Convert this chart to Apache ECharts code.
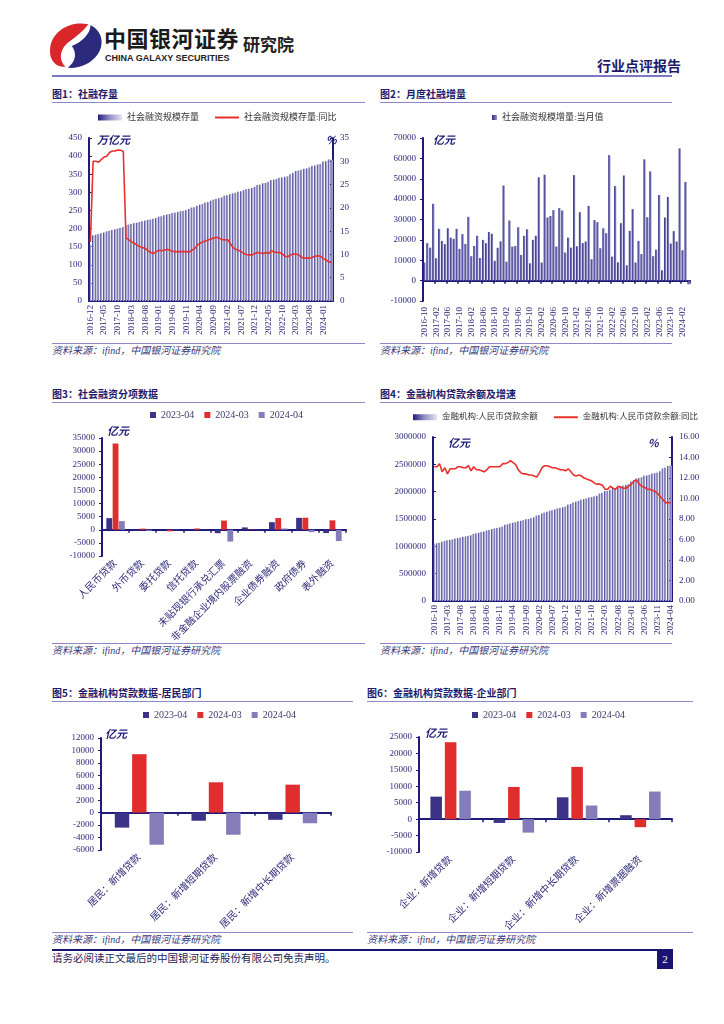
<!DOCTYPE html>
<html><head><meta charset="utf-8">
<script src="https://cdn.jsdelivr.net/npm/echarts@6/dist/echarts.min.js"></script>
<style>
body{margin:0;width:724px;height:1024px;background:#fff;position:relative;overflow:hidden;font-family:'Noto Sans CJK SC',sans-serif;}
.t{position:absolute;white-space:nowrap;}
.title{position:absolute;font-size:10px;line-height:12px;font-weight:bold;color:#1d1a6a;white-space:nowrap;font-family:'Noto Sans CJK SC';}
.hl{position:absolute;height:0;border-top:1px solid #8c88c9;}
.src{position:absolute;font-size:10px;line-height:12px;font-style:italic;color:#3a3a7a;font-family:'Liberation Serif','Noto Sans CJK SC';white-space:nowrap;}
.chart{position:absolute;}
</style></head><body>
<svg class="t" style="left:47px;top:21px" width="58" height="48" viewBox="0 0 56 46">
  <path d="M40 3 C22 -1 4 10 3 27 C2 38 9 45 18 44 C11 38 12 27 21 20 C28 15 35 10 40 3 Z" fill="#d8262b"/>
  <path d="M24 24 C34 20 42 12 42 4 C53 9 56 22 49 32 C42 42 30 46 20 45 C28 39 29 31 24 24 Z" fill="#2b2a7c"/>
</svg>
<div class="t" style="left:104px;top:25px;font-size:22px;line-height:24px;font-weight:bold;color:#1a1a1a;letter-spacing:0.5px">中国银河证券</div>
<div class="t" style="left:105px;top:54px;font-size:9px;line-height:9px;font-weight:bold;color:#222;font-family:'Liberation Sans',Arial">CHINA GALAXY SECURITIES</div>
<div class="t" style="left:243px;top:35px;font-size:17px;line-height:18px;font-weight:bold;color:#222">研究院</div>
<div class="t" style="left:597px;top:57px;font-size:14px;line-height:16px;font-weight:bold;color:#1d1a6a">行业点评报告</div>
<div class="t" style="left:52px;top:75px;width:620px;height:2px;background:#7b77c4"></div>

<div class="title" style="left:52px;top:88px">图1：社融存量</div>
<div class="hl" style="left:52px;top:102px;width:313px"></div>
<div class="title" style="left:380px;top:88px">图2：月度社融增量</div>
<div class="hl" style="left:380px;top:102px;width:292px"></div>
<div class="hl" style="left:52px;top:343px;width:313px"></div>
<div class="hl" style="left:380px;top:343px;width:292px"></div>
<div class="src" style="left:52px;top:345px">资料来源：ifind，中国银河证券研究院</div>
<div class="src" style="left:380px;top:345px">资料来源：ifind，中国银河证券研究院</div>

<div class="title" style="left:52px;top:388px">图3：社会融资分项数据</div>
<div class="hl" style="left:52px;top:402px;width:313px"></div>
<div class="title" style="left:380px;top:388px">图4：金融机构贷款余额及增速</div>
<div class="hl" style="left:380px;top:402px;width:292px"></div>
<div class="hl" style="left:52px;top:643px;width:313px"></div>
<div class="hl" style="left:380px;top:643px;width:292px"></div>
<div class="src" style="left:52px;top:645px">资料来源：ifind，中国银河证券研究院</div>
<div class="src" style="left:380px;top:645px">资料来源：ifind，中国银河证券研究院</div>

<div class="title" style="left:52px;top:687px">图5：金融机构贷款数据-居民部门</div>
<div class="hl" style="left:52px;top:701px;width:301px"></div>
<div class="title" style="left:367px;top:687px">图6：金融机构贷款数据-企业部门</div>
<div class="hl" style="left:367px;top:701px;width:326px"></div>
<div class="hl" style="left:52px;top:932px;width:301px"></div>
<div class="hl" style="left:367px;top:932px;width:326px"></div>
<div class="src" style="left:52px;top:934px">资料来源：ifind，中国银河证券研究院</div>
<div class="src" style="left:367px;top:934px">资料来源：ifind，中国银河证券研究院</div>

<div class="t" style="left:52px;top:949px;width:620px;height:2px;background:#1a1370"></div>
<div class="t" style="left:52px;top:953px;font-size:10.5px;line-height:12px;color:#1f1c5a;font-family:'Liberation Serif','Noto Sans CJK SC'">请务必阅读正文最后的中国银河证券股份有限公司免责声明。</div>
<div class="t" style="left:657px;top:949px;width:16px;height:20px;background:#1a1370;color:#fff;font-size:11px;text-align:center;line-height:20px;font-family:'Liberation Serif'">2</div>

<div id="c1" class="chart" style="left:40px;top:104px;width:330px;height:238px"></div>
<div id="c2" class="chart" style="left:370px;top:104px;width:330px;height:238px"></div>
<div id="c3" class="chart" style="left:40px;top:404px;width:330px;height:238px"></div>
<div id="c4" class="chart" style="left:370px;top:404px;width:330px;height:238px"></div>
<div id="c5" class="chart" style="left:40px;top:704px;width:320px;height:228px"></div>
<div id="c6" class="chart" style="left:360px;top:704px;width:340px;height:228px"></div>

<script>
// ---------- DATA ----------
function months(y, m, n) { var a = []; for (var i = 0; i < n; i++) { var mm = m + i; var yy = y + Math.floor((mm - 1) / 12); var m2 = ((mm - 1) % 12) + 1; a.push(yy + '-' + (m2 < 10 ? '0' + m2 : m2)); } return a; }

var c1Months = months(2016, 12, 89);
var c1Stock = [156,181,183,185,187,189,192,194,196,198,200,202,204,
  209,211,213,215,216,218,220,222,224,225,227,229,
  233,234,237,239,240,243,244,246,248,249,251,254,
  258,259,263,266,268,272,273,277,280,282,284,286,
  291,292,295,297,299,302,303,306,309,310,312,315,
  320,321,325,326,329,334,335,337,340,341,343,344,
  350,354,359,360,362,365,366,369,373,374,377,378,
  385,386,391,390];
var c1Yoy = [12.7,30.0,30.0,29.8,30.4,30.9,31.1,31.9,32.2,32.2,32.4,32.4,32.1,
  13.5,13.2,12.7,12.4,12.0,11.7,11.5,11.3,10.8,10.4,10.2,10.6,
  10.9,10.8,10.9,11.1,10.9,10.7,10.6,10.6,10.6,10.6,10.6,10.5,
  10.9,11.2,12.0,12.4,12.7,12.9,13.1,13.3,13.5,13.7,13.5,13.2,
  13.1,13.2,12.4,11.5,11.1,10.9,10.6,10.2,10.0,9.9,9.9,10.2,
  10.4,10.3,10.2,10.4,10.2,10.8,10.5,10.4,10.4,10.1,9.6,9.5,
  9.9,10.1,10.1,9.9,9.4,9.2,9.2,9.2,9.4,9.6,9.7,9.6,
  9.1,8.8,8.4,8.3];

var c2Months = months(2016, 10, 91);
var c2Flow = [8850,18400,16200,37700,11000,25400,19500,17900,25700,21100,
  20500,25400,15600,22800,18000,31300,12000,17000,22000,11100,
  20000,18400,23900,23000,9700,16100,19300,46700,9300,29500,
  16700,17000,26200,12600,22000,25200,8500,20000,22000,50700,
  8850,52000,31000,31700,34600,16700,35600,34400,13800,21100,
  16200,51800,16900,33600,18400,19200,36700,10500,29700,28700,
  15900,25700,23300,61600,11800,46400,9000,28200,51600,7500,
  24400,35100,8900,19500,13000,59500,31100,53600,12000,15200,
  42000,5100,31000,41100,18200,24300,19200,64900,14900,48400,-1800];

var c3Cats = ['人民币贷款','外币贷款','委托贷款','信托贷款','未贴现银行承兑汇票','非金融企业境内股票融资','企业债券融资','政府债券','表外融资'];
var c3A = [4431,-306,-30,80,-1300,900,2900,4548,-1250];
var c3B = [32900,450,-600,500,3500,150,4500,4600,3600];
var c3C = [3300,-400,-100,50,-4500,50,500,-900,-4300];

var c4Months = months(2016, 10, 91);
var c4Loan = [1047000,1055000,1066000,1086000,1098000,1110000,1117000,1128000,1143000,1151000,
  1162000,1174000,1181000,1192000,1201000,1230000,1238000,1249000,1261000,1272000,
  1290000,1301000,1314000,1328000,1334000,1346000,1362000,1395000,1404000,1420000,
  1430000,1442000,1459000,1467000,1479000,1496000,1502000,1516000,1530000,1563000,
  1572000,1601000,1618000,1633000,1651000,1661000,1675000,1694000,1701000,1715000,
  1727000,1763000,1776000,1803000,1817000,1832000,1854000,1863000,1876000,1893000,
  1901000,1914000,1926000,1966000,1978000,2010000,2016000,2035000,2063000,2067000,
  2080000,2104000,2110000,2122000,2136000,2185000,2203000,2242000,2249000,2263000,
  2293000,2296000,2309000,2332000,2339000,2349000,2375000,2424000,2439000,2470000,2477000];
var c4Yoy = [13.1,13.1,13.4,12.6,13.0,12.4,12.9,12.9,12.9,13.1,
  13.1,13.0,13.0,13.2,12.7,13.1,12.8,12.8,12.7,12.6,
  12.8,13.1,13.1,13.1,13.1,13.1,13.4,13.4,13.5,13.7,
  13.5,13.3,12.8,12.5,12.4,12.4,12.3,12.3,12.2,12.1,
  12.5,13.0,13.2,13.2,13.1,13.0,13.0,12.9,12.8,12.8,
  12.7,12.9,12.6,12.3,12.2,12.3,12.2,12.0,11.9,11.8,
  11.7,11.5,11.4,11.4,11.3,10.9,10.9,11.2,11.0,10.9,
  11.2,11.1,11.0,11.0,11.2,11.4,11.7,11.8,11.4,11.2,
  11.1,10.9,10.9,10.8,10.7,10.5,10.2,9.9,9.6,9.6,9.6];

var c5Cats = ['居民：新增贷款','居民：新增短期贷款','居民：新增中长期贷款'];
var c5A = [-2400,-1300,-1150];
var c5B = [9400,4880,4500];
var c5C = [-5150,-3550,-1700];

var c6Cats = ['企业：新增贷款','企业：新增短期贷款','企业：新增中长期贷款','企业：新增票据融资'];
var c6A = [6850,-1150,6650,1200];
var c6B = [23400,9800,15900,-2450];
var c6C = [8650,-4100,4150,8400];

var seriesNames3 = ['2023-04','2024-03','2024-04'];

// ---------- STYLE ----------
var FF = "'Liberation Serif','Noto Sans CJK SC',serif";
var NAVY = '#1f1a78';
var LBL = '#2e2a78';
var RED = '#e8302c';
var C_A = '#3a3388', C_B = '#e02d2d', C_C = '#857dba';
var LINE_ICON = 'path://M0,0H24V2H0Z';
function plain(v) { return String(v); }
function grad() {
  return new echarts.graphic.LinearGradient(0, 0, 1, 0, [
    {offset: 0, color: '#231e7c'}, {offset: 0.45, color: '#8d8ac2'}, {offset: 1, color: '#e4e4f2'}]);
}
function valAxis(min, max, itv, pos, fmt, tickIn) {
  return {type: 'value', min: min, max: max, interval: itv, position: pos || 'left',
    axisLine: {show: true, onZero: false, lineStyle: {color: NAVY, width: 2}},
    axisTick: {show: true, inside: !!tickIn, length: 3, lineStyle: {color: NAVY, width: 1}},
    splitLine: {show: false},
    axisLabel: {fontSize: 9, color: LBL, fontFamily: FF, margin: 7, formatter: fmt || plain}};
}
function unitText(left, top, txt) {
  return {type: 'text', left: left, top: top, style: {text: txt, fontSize: 11, fontWeight: 'bold', fontStyle: 'italic', fill: NAVY, fontFamily: "'Noto Sans CJK SC'"}};
}
function legend3(left) {
  return {top: 6, left: left, padding: 0, itemWidth: 6, itemHeight: 6, itemGap: 10, icon: 'rect',
    textStyle: {fontSize: 10, color: '#3b3b6b', fontFamily: FF}, data: seriesNames3};
}
function catAxesSplit(cats, rot, fs, interval, tickInterval) {
  return [
    {type: 'category', data: cats, position: 'bottom',
      axisLine: {show: false, onZero: false}, axisTick: {show: false},
      axisLabel: {interval: interval, rotate: rot, fontSize: fs, color: LBL, fontFamily: FF, margin: 6}},
    {type: 'category', data: cats, position: 'bottom',
      axisLine: {show: true, onZero: true, lineStyle: {color: NAVY, width: 2}},
      axisTick: {show: true, interval: tickInterval, length: 3, lineStyle: {color: NAVY, width: 1.5}},
      axisLabel: {show: false}}
  ];
}

// ---------- CHART 1 ----------
echarts.init(document.getElementById('c1')).setOption({
  animation: false, textStyle: {fontFamily: FF},
  legend: {top: 9, left: 58, padding: 0, itemGap: 16, itemWidth: 24, itemHeight: 6,
    textStyle: {fontSize: 9, color: '#333', fontFamily: FF},
    data: [{name: '社会融资规模存量', icon: 'rect'}, {name: '社会融资规模存量:同比', icon: LINE_ICON}]},
  grid: {left: 49, right: 37, top: 34, bottom: 41, outerBoundsMode: 'none'},
  xAxis: {type: 'category', data: c1Months,
    axisLine: {lineStyle: {color: NAVY, width: 2}},
    axisTick: {interval: 4, length: 3, lineStyle: {color: NAVY}},
    axisLabel: {interval: 4, rotate: 90, fontSize: 9, color: LBL, fontFamily: FF, margin: 4}},
  yAxis: [valAxis(0, 450, 50, 'left', null, true), valAxis(0, 35, 5, 'right', null, true)],
  series: [
    {type: 'bar', name: '社会融资规模存量', data: c1Stock, barCategoryGap: '22%', itemStyle: {color: grad()}},
    {type: 'line', name: '社会融资规模存量:同比', yAxisIndex: 1, data: c1Yoy, symbol: 'none',
      lineStyle: {color: RED, width: 1.6}, itemStyle: {color: RED}}
  ],
  graphic: [unitText(57, 30, '万亿元'), unitText(286, 30, '%')]
});

// ---------- CHART 2 ----------
echarts.init(document.getElementById('c2')).setOption({
  animation: false, textStyle: {fontFamily: FF},
  legend: {top: 9, left: 122, padding: 0, itemWidth: 5, itemHeight: 5, icon: 'rect',
    textStyle: {fontSize: 9, color: '#333', fontFamily: FF}, data: ['社会融资规模增量:当月值']},
  grid: {left: 53, right: 10, top: 34, bottom: 41, outerBoundsMode: 'none'},
  xAxis: catAxesSplit(c2Months, 90, 9, 3, 3),
  yAxis: valAxis(-10000, 70000, 10000, 'left', null, false),
  series: [{type: 'bar', name: '社会融资规模增量:当月值', xAxisIndex: 1, data: c2Flow, barWidth: 2.2,
    itemStyle: {color: new echarts.graphic.LinearGradient(0, 0, 1, 0, [
      {offset: 0, color: '#2a2580'}, {offset: 1, color: '#9a97cc'}])}}],
  graphic: [unitText(63, 30, '亿元')]
});

// ---------- CHART 3 ----------
echarts.init(document.getElementById('c3')).setOption({
  animation: false, textStyle: {fontFamily: FF},
  legend: legend3(110),
  grid: {left: 62, right: 24, top: 34, bottom: 86, outerBoundsMode: 'none'},
  xAxis: catAxesSplit(c3Cats, 45, 10, 0, 0),
  yAxis: valAxis(-10000, 35000, 5000, 'left', null, false),
  series: [
    {type: 'bar', name: '2023-04', xAxisIndex: 1, data: c3A, barGap: '8%', barCategoryGap: '32%', itemStyle: {color: C_A}},
    {type: 'bar', name: '2024-03', xAxisIndex: 1, data: c3B, itemStyle: {color: C_B}},
    {type: 'bar', name: '2024-04', xAxisIndex: 1, data: c3C, itemStyle: {color: C_C}}
  ],
  graphic: [unitText(67, 21, '亿元')]
});

// ---------- CHART 4 ----------
echarts.init(document.getElementById('c4')).setOption({
  animation: false, textStyle: {fontFamily: FF},
  legend: {top: 9, left: 43, padding: 0, width: 300, itemGap: 16, itemWidth: 24, itemHeight: 6,
    textStyle: {fontSize: 8.5, color: '#333', fontFamily: FF},
    data: [{name: '金融机构:人民币贷款余额', icon: 'rect'}, {name: '金融机构:人民币贷款余额:同比', icon: LINE_ICON}]},
  grid: {left: 63, right: 28, top: 33, bottom: 41, outerBoundsMode: 'none'},
  xAxis: {type: 'category', data: c4Months,
    axisLine: {lineStyle: {color: NAVY, width: 2}},
    axisTick: {interval: 4, length: 3, lineStyle: {color: NAVY}},
    axisLabel: {interval: 4, rotate: 90, fontSize: 9, color: LBL, fontFamily: FF, margin: 4}},
  yAxis: [valAxis(0, 3000000, 500000, 'left', null, true),
          valAxis(0, 16, 2, 'right', function (v) { return v.toFixed(2); }, true)],
  series: [
    {type: 'bar', name: '金融机构:人民币贷款余额', data: c4Loan, barCategoryGap: '22%', itemStyle: {color: grad()}},
    {type: 'line', name: '金融机构:人民币贷款余额:同比', yAxisIndex: 1, data: c4Yoy, symbol: 'none',
      lineStyle: {color: RED, width: 1.6}, itemStyle: {color: RED}}
  ],
  graphic: [unitText(78, 33, '亿元'), unitText(278, 33, '%')]
});

// ---------- CHART 5 ----------
echarts.init(document.getElementById('c5')).setOption({
  animation: false, textStyle: {fontFamily: FF},
  legend: legend3(103),
  grid: {left: 61, right: 29, top: 34, bottom: 82, outerBoundsMode: 'none'},
  xAxis: catAxesSplit(c5Cats, 45, 10, 0, 0),
  yAxis: valAxis(-6000, 12000, 2000, 'left', null, false),
  series: [
    {type: 'bar', name: '2023-04', xAxisIndex: 1, data: c5A, barGap: '20%', barCategoryGap: '36%', itemStyle: {color: C_A}},
    {type: 'bar', name: '2024-03', xAxisIndex: 1, data: c5B, itemStyle: {color: C_B}},
    {type: 'bar', name: '2024-04', xAxisIndex: 1, data: c5C, itemStyle: {color: C_C}}
  ],
  graphic: [unitText(65, 24, '亿元')]
});

// ---------- CHART 6 ----------
echarts.init(document.getElementById('c6')).setOption({
  animation: false, textStyle: {fontFamily: FF},
  legend: legend3(112),
  grid: {left: 59, right: 28, top: 33, bottom: 80, outerBoundsMode: 'none'},
  xAxis: catAxesSplit(c6Cats, 45, 10, 0, 0),
  yAxis: valAxis(-10000, 25000, 5000, 'left', null, false),
  series: [
    {type: 'bar', name: '2023-04', xAxisIndex: 1, data: c6A, barGap: '25%', barCategoryGap: '36%', itemStyle: {color: C_A}},
    {type: 'bar', name: '2024-03', xAxisIndex: 1, data: c6B, itemStyle: {color: C_B}},
    {type: 'bar', name: '2024-04', xAxisIndex: 1, data: c6C, itemStyle: {color: C_C}}
  ],
  graphic: [unitText(65, 23, '亿元')]
});
</script>
</body></html>
